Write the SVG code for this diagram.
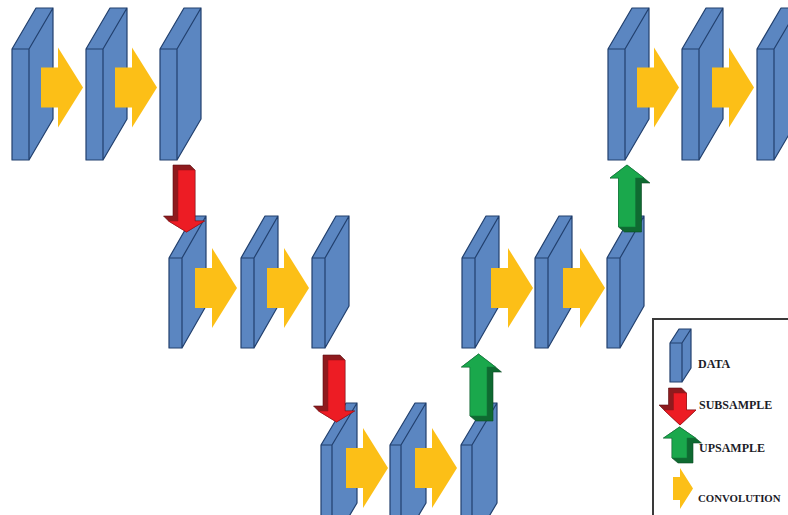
<svg xmlns="http://www.w3.org/2000/svg" xmlns:xlink="http://www.w3.org/1999/xlink" width="788" height="515" viewBox="0 0 788 515">
<style>
.sf{fill:#5b86c1;stroke:#22406e;stroke-width:1.2;stroke-linejoin:round}
.cv{fill:#fcbf17}
.rd{fill:#8e1b1e;stroke:#5a0f10;stroke-width:0.6;stroke-linejoin:round}
.rb{fill:#ed1c24;stroke:#a31218;stroke-width:0.6;stroke-linejoin:round}
.gd{fill:#0f6a31;stroke:#0a4a22;stroke-width:0.6;stroke-linejoin:round}
.gb{fill:#1aa84c;stroke:#10773a;stroke-width:0.6;stroke-linejoin:round}
.lt{font-family:"Liberation Serif","DejaVu Serif",serif;font-weight:bold;font-size:12px;fill:#1c1c28}
</style>
<defs>
<path id="s1" d="M0,0h17v111h-17Z M17,0l24,-41v111l-24,41Z M0,0l24,-41h17l-24,41Z"/>
<path id="s2" d="M0,0h13v90h-13Z M13,0l24,-42v90l-24,42Z M0,0l24,-42h13l-24,42Z"/>
<path id="s3" d="M0,0h11v100h-11Z M11,0l25,-42v100l-25,42Z M0,0l25,-42h11l-25,42Z"/>
<path id="cva" d="M0,-20H17V-40L42,0L17,40V20H0Z"/>
<path id="rdk" d="M-13.5,-5H3.5L8.5,0V51H18L0,62L-18,51L-23,46H-13.5Z"/>
<path id="rfr" d="M-8.5,0H8.5V51H18L0,62L-18,51H-8.5Z"/>
<path id="gdk" d="M-8.5,0L-2.5,5H14.5V-44H23L17,-49L0,-62L-17,-49H-8.5Z"/>
<path id="gfr" d="M-8.5,0H8.5V-49H17L0,-62L-17,-49H-8.5Z"/>
</defs>
<rect width="788" height="515" fill="#ffffff"/>
<g id="n-r1-1"><use xlink:href="#s1" class="sf" x="12" y="49"/></g>
<g id="n-r1-2"><use xlink:href="#s1" class="sf" x="86" y="49"/></g>
<g id="n-r1-3"><use xlink:href="#s1" class="sf" x="160" y="49"/></g>
<g id="n-r1-4"><use xlink:href="#s1" class="sf" x="608" y="49"/></g>
<g id="n-r1-5"><use xlink:href="#s1" class="sf" x="682" y="49"/></g>
<g id="n-r1-6"><use xlink:href="#s1" class="sf" x="757" y="49"/></g>
<g id="n-r2-1"><use xlink:href="#s2" class="sf" x="169" y="258"/></g>
<g id="n-r2-2"><use xlink:href="#s2" class="sf" x="241" y="258"/></g>
<g id="n-r2-3"><use xlink:href="#s2" class="sf" x="312" y="258"/></g>
<g id="n-r2-4"><use xlink:href="#s2" class="sf" x="462" y="258"/></g>
<g id="n-r2-5"><use xlink:href="#s2" class="sf" x="535" y="258"/></g>
<g id="n-r2-6"><use xlink:href="#s2" class="sf" x="607" y="258"/></g>
<g id="n-r3-1"><use xlink:href="#s3" class="sf" x="321" y="445"/></g>
<g id="n-r3-2"><use xlink:href="#s3" class="sf" x="390" y="445"/></g>
<g id="n-r3-3"><use xlink:href="#s3" class="sf" x="461" y="445"/></g>
<g id="connectors">
<use xlink:href="#cva" class="cv" x="41" y="87.5"/>
<use xlink:href="#cva" class="cv" x="115" y="87.5"/>
<use xlink:href="#cva" class="cv" x="637" y="87.5"/>
<use xlink:href="#cva" class="cv" x="712" y="87.5"/>
<use xlink:href="#cva" class="cv" x="195" y="288"/>
<use xlink:href="#cva" class="cv" x="267" y="288"/>
<use xlink:href="#cva" class="cv" x="491" y="288"/>
<use xlink:href="#cva" class="cv" x="563" y="288"/>
<use xlink:href="#cva" class="cv" x="346" y="468"/>
<use xlink:href="#cva" class="cv" x="415" y="468"/>
<g transform="translate(186.5,170)"><use xlink:href="#rdk" class="rd"/><use xlink:href="#rfr" class="rb"/></g>
<g transform="translate(336.5,360)"><use xlink:href="#rdk" class="rd"/><use xlink:href="#rfr" class="rb"/></g>
<g transform="translate(478.5,416)"><use xlink:href="#gdk" class="gd"/><use xlink:href="#gfr" class="gb"/></g>
<g transform="translate(627,227)"><use xlink:href="#gdk" class="gd"/><use xlink:href="#gfr" class="gb"/></g>
</g>
<g id="legend">
<rect x="653" y="319" width="150" height="210" fill="#ffffff" stroke="#3a3a3a" stroke-width="2"/>
<path class="sf" d="M670,343h12v39h-12Z M682,343l9,-14v39l-9,14Z M670,343l9,-14h12l-9,14Z"/>
<text class="lt" x="698" y="368">DATA</text>
<g transform="translate(680,393)">
<path class="rd" d="M-11.5,-5H1.5L6.5,0V17H16L0,32L-16,17L-21,12H-11.5Z"/>
<path class="rb" d="M-6.5,0H6.5V17H16L0,32L-16,17H-6.5Z"/>
</g>
<text class="lt" x="699" y="409">SUBSAMPLE</text>
<g transform="translate(679.5,458)">
<path class="gd" d="M-7.5,0L-1.5,5H13.5V-15H22L16,-20L0,-31L-16,-20H-7.5Z"/>
<path class="gb" d="M-7.5,0H7.5V-20H16L0,-31L-16,-20H-7.5Z"/>
</g>
<text class="lt" x="699" y="452">UPSAMPLE</text>
<path class="cv" d="M673,477H680V468L693,488.5L680,509V500H673Z"/>
<text class="lt" x="698" y="502" style="font-size:10.8px">CONVOLUTION</text>
</g>
</svg>
